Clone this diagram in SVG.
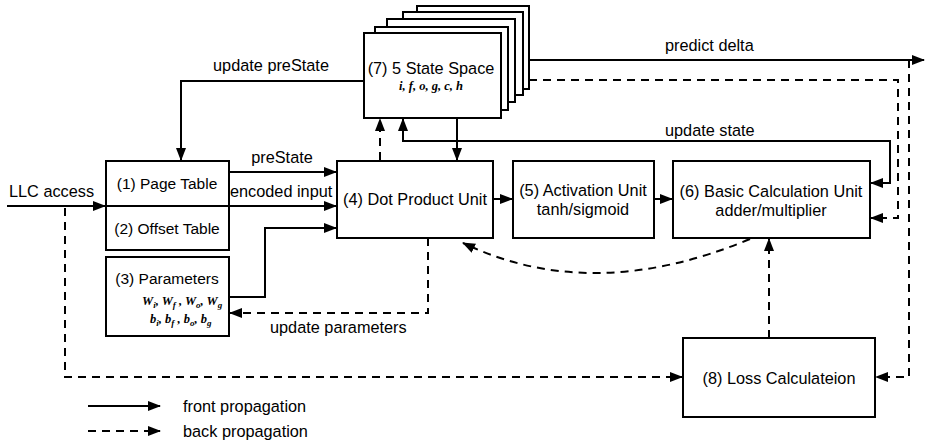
<svg xmlns="http://www.w3.org/2000/svg" width="925" height="443" viewBox="0 0 925 443">
<defs>
<marker id="ah" markerUnits="userSpaceOnUse" markerWidth="13" markerHeight="10" refX="12" refY="5" orient="auto-start-reverse">
<path d="M0,0 L13,5 L0,10 z" fill="#000"/>
</marker>
<style>
.box{fill:#fff;stroke:#000;stroke-width:2}
.t{font-family:"Liberation Sans",Arial,Helvetica,sans-serif;font-size:16.3px;fill:#000}
.tl{font-family:"Liberation Sans",Arial,Helvetica,sans-serif;font-size:15.5px;fill:#000}
.c{text-anchor:middle}
.m{font-family:"Liberation Serif","Times New Roman",serif;font-style:italic;font-weight:bold;font-size:12.5px;fill:#000}
.s{font-size:9px}
.ln{fill:none;stroke:#000;stroke-width:2}
.d{stroke-dasharray:8 6}
.a{marker-end:url(#ah)}
</style>
</defs>
<rect width="925" height="443" fill="#fff"/>

<g id="connectors">
<path class="ln a" d="M364 81 L181 81 L181 160"/>
<path class="ln a" d="M529 60 L924 60"/>
<path class="ln d a" d="M529 80 L898 80 L898 218 L871 218"/>
<path class="ln d a" d="M909 60 L909 377 L876 377"/>
<path class="ln" style="marker-start:url(#ah);marker-end:url(#ah)" d="M403 119 L403 141 L890 141 L890 183 L871 183"/>
<path class="ln a" d="M457 118 L457 160"/>
<path class="ln d a" d="M380 160 L380 119"/>
<path class="ln a" d="M493 199 L512 199"/>
<path class="ln a" d="M654 199 L672 199"/>
<path class="ln d a" d="M428 238 L428 313 L230 313"/>
<path class="ln d a" d="M750 239 Q592 305 463 243"/>
<path class="ln d a" d="M769 338 L769 239"/>
<path class="ln d a" d="M65 208 L65 377 L682 377"/>
<path class="ln a" d="M7 206 L105 206"/>
<path class="ln a" d="M229 206 L336 206"/>
<path class="ln a" d="M229 172 L336 172"/>
<path class="ln a" d="M229 297 L265 297 L265 228 L336 228"/>
<path class="ln a" d="M88 406 L160 406"/>
<path class="ln d a" d="M88 431 L160 431"/>
</g>

<g id="labels">
<text class="t c" x="271" y="71">update preState</text>
<text class="t" x="665" y="51">predict delta</text>
<text class="t" x="665" y="136">update state</text>
<text class="t c" x="282" y="163">preState</text>
<text class="t" x="230" y="197">encoded input</text>
<text class="t" x="9" y="197">LLC access</text>
<text class="t" x="270" y="333">update parameters</text>
<text class="t" x="183" y="412">front propagation</text>
<text class="t" x="183" y="437">back propagation</text>
</g>

<g id="n7">
<rect class="box" x="417" y="6" width="112" height="83"/>
<rect class="box" x="403" y="12" width="120" height="83"/>
<rect class="box" x="387" y="19" width="128" height="83"/>
<rect class="box" x="375" y="27" width="133" height="83"/>
<rect class="box" x="364" y="33" width="137" height="85"/>
<text class="t c" x="431" y="74">(7) 5 State Space</text>
<text class="m c" x="431" y="90">i, f, o, g, c, h</text>
</g>

<g id="n1">
<rect class="box" x="106" y="161" width="123" height="45"/>
<text class="tl c" x="167" y="189">(1) Page Table</text>
</g>
<g id="n2">
<rect class="box" x="106" y="206" width="123" height="44"/>
<text class="tl c" x="167" y="234">(2) Offset Table</text>
</g>
<g id="n3">
<rect class="box" x="106" y="257" width="123" height="79"/>
<text class="tl c" x="167" y="284">(3) Parameters</text>
<text class="m" x="142" y="305">W<tspan class="s" dy="3">i</tspan><tspan dy="-3">, W</tspan><tspan class="s" dy="3">f</tspan><tspan dy="-3"> , W</tspan><tspan class="s" dy="3">o</tspan><tspan dy="-3">, W</tspan><tspan class="s" dy="3">g</tspan></text>
<text class="m" x="150" y="323">b<tspan class="s" dy="3">i</tspan><tspan dy="-3">, b</tspan><tspan class="s" dy="3">f</tspan><tspan dy="-3"> , b</tspan><tspan class="s" dy="3">o</tspan><tspan dy="-3">, b</tspan><tspan class="s" dy="3">g</tspan></text>
</g>
<g id="n4">
<rect class="box" x="337" y="161" width="156" height="77"/>
<text class="t c" x="415" y="205">(4) Dot Product Unit</text>
</g>
<g id="n5">
<rect class="box" x="513" y="161" width="141" height="77"/>
<text class="t c" x="583" y="196">(5) Activation Unit</text>
<text class="t c" x="583" y="215">tanh/sigmoid</text>
</g>
<g id="n6">
<rect class="box" x="673" y="161" width="197" height="77"/>
<text class="t c" x="771" y="197">(6) Basic Calculation Unit</text>
<text class="t c" x="771" y="216">adder/multiplier</text>
</g>
<g id="n8">
<rect class="box" x="683" y="338" width="192" height="79"/>
<text class="t c" x="779" y="384">(8) Loss Calculateion</text>
</g>
</svg>
